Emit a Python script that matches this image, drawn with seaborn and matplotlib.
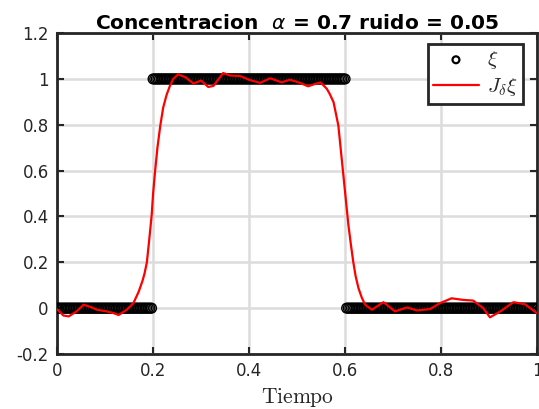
import numpy as np
import pandas as pd
import matplotlib.pyplot as plt
import seaborn as sns

# ── Datos ─────────────────────────────────────────────────────────────────────
# señal original xi (escalón 0 / 1 / 0) muestreada en 301 instantes
t_xi = np.linspace(0, 1, 301)
xi = [0] * 60 + [1] * 121 + [0] * 120

# reconstrucción J_delta xi
t_rec = [0.0, 0.013, 0.024, 0.04, 0.055, 0.07, 0.083, 0.103, 0.118, 0.128,
         0.145, 0.159, 0.17, 0.178, 0.182, 0.187, 0.192, 0.197, 0.2, 0.204,
         0.209, 0.215, 0.221, 0.228, 0.235, 0.242,
         0.252, 0.267, 0.284, 0.30, 0.315, 0.326, 0.346, 0.36, 0.381, 0.402,
         0.423, 0.444, 0.468, 0.485, 0.506, 0.523, 0.537, 0.549, 0.562, 0.568,
         0.576, 0.586, 0.593, 0.60, 0.607, 0.612, 0.617, 0.622, 0.628, 0.635,
         0.642, 0.656, 0.68, 0.704,
         0.729, 0.75, 0.777, 0.798, 0.822, 0.846, 0.867, 0.888, 0.902, 0.923,
         0.951, 0.975, 1.0]
j_rec = [-0.005, -0.032, -0.036, -0.015, 0.015, 0.005, -0.007, -0.014, -0.022, -0.03,
         -0.007, 0.022, 0.072, 0.12, 0.15, 0.2, 0.3, 0.406, 0.5, 0.595,
         0.7, 0.797, 0.875, 0.93, 0.97, 1.0,
         1.02, 1.008, 0.98, 0.993, 0.965, 0.97, 1.026, 1.015, 1.013, 0.995,
         0.983, 1.003, 0.985, 0.997, 0.983, 0.968, 0.978, 0.985, 0.957, 0.935,
         0.899, 0.797, 0.652, 0.507, 0.362, 0.28, 0.203, 0.14, 0.087, 0.045,
         0.015, -0.007, 0.026, -0.014,
         0.003, -0.01, -0.004, 0.022, 0.043, 0.036, 0.033, 0.0, -0.04, -0.015,
         0.026, 0.017, -0.022]

x_ticks = [0, 0.2, 0.4, 0.6, 0.8, 1]
y_ticks = [-0.2, 0, 0.2, 0.4, 0.6, 0.8, 1, 1.2]

df_xi = pd.DataFrame({"t": t_xi, "xi": xi})
df_rec = pd.DataFrame({"t": t_rec, "j": j_rec})

# ── Estilo ────────────────────────────────────────────────────────────────────
sns.set_theme(style="whitegrid")
plt.rcParams["font.family"] = ["DejaVu Sans"]
plt.rcParams["mathtext.fontset"] = "cm"

gris = "#262626"

fig = plt.figure(figsize=(5.39, 4.09), dpi=100)
ax = fig.add_axes([0.106, 0.1345, 0.8903, 0.7845])

sns.scatterplot(data=df_xi, x="t", y="xi", ax=ax, marker="o", s=50,
                facecolor="none", edgecolor="black", linewidth=1.0,
                label=r"$\xi$", zorder=3)
sns.lineplot(data=df_rec, x="t", y="j", ax=ax, color="red", linewidth=1.6,
             label=r"$J_\delta\xi$", zorder=4)

ax.set_xlim(0, 1)
ax.set_ylim(-0.2, 1.2)
ax.set_xticks(x_ticks)
ax.set_xticklabels(["0", "0.2", "0.4", "0.6", "0.8", "1"])
ax.set_yticks(y_ticks)
ax.set_yticklabels(["-0.2", "0", "0.2", "0.4", "0.6", "0.8", "1", "1.2"])
ax.grid(True, color="#dcdcdc", linewidth=1.8)
ax.set_facecolor("white")

for sp in ax.spines.values():
    sp.set_color(gris)
    sp.set_linewidth(2.0)
ax.tick_params(direction="in", length=5, width=1.5, colors=gris,
               labelsize=12, top=True, right=True, bottom=True, left=True,
               pad=6)

ax.set_xlabel(r"$\mathrm{Tiempo}$", fontsize=15.5, color=gris, labelpad=4)
ax.set_ylabel("")
ax.set_title(r"Concentracion  $\alpha$ = 0.7 ruido = 0.05", fontsize=14.5,
             fontweight="bold", color="black", pad=3,
             math_fontfamily="dejavusans")

leg = ax.legend(loc="upper right", bbox_to_anchor=(0.971, 0.966), fontsize=15,
                frameon=True, fancybox=False, handlelength=2.2,
                borderpad=0.25, labelspacing=0.25, handletextpad=0.4,
                borderaxespad=0, markerscale=0.7)
leg.get_frame().set_edgecolor(gris)
leg.get_frame().set_linewidth(2.0)
leg.get_frame().set_facecolor("white")
leg.get_frame().set_alpha(1)
for h in leg.legend_handles[:1]:
    h.set_linewidth(1.6)

plt.savefig("out.png", dpi=100)
plt.close()
